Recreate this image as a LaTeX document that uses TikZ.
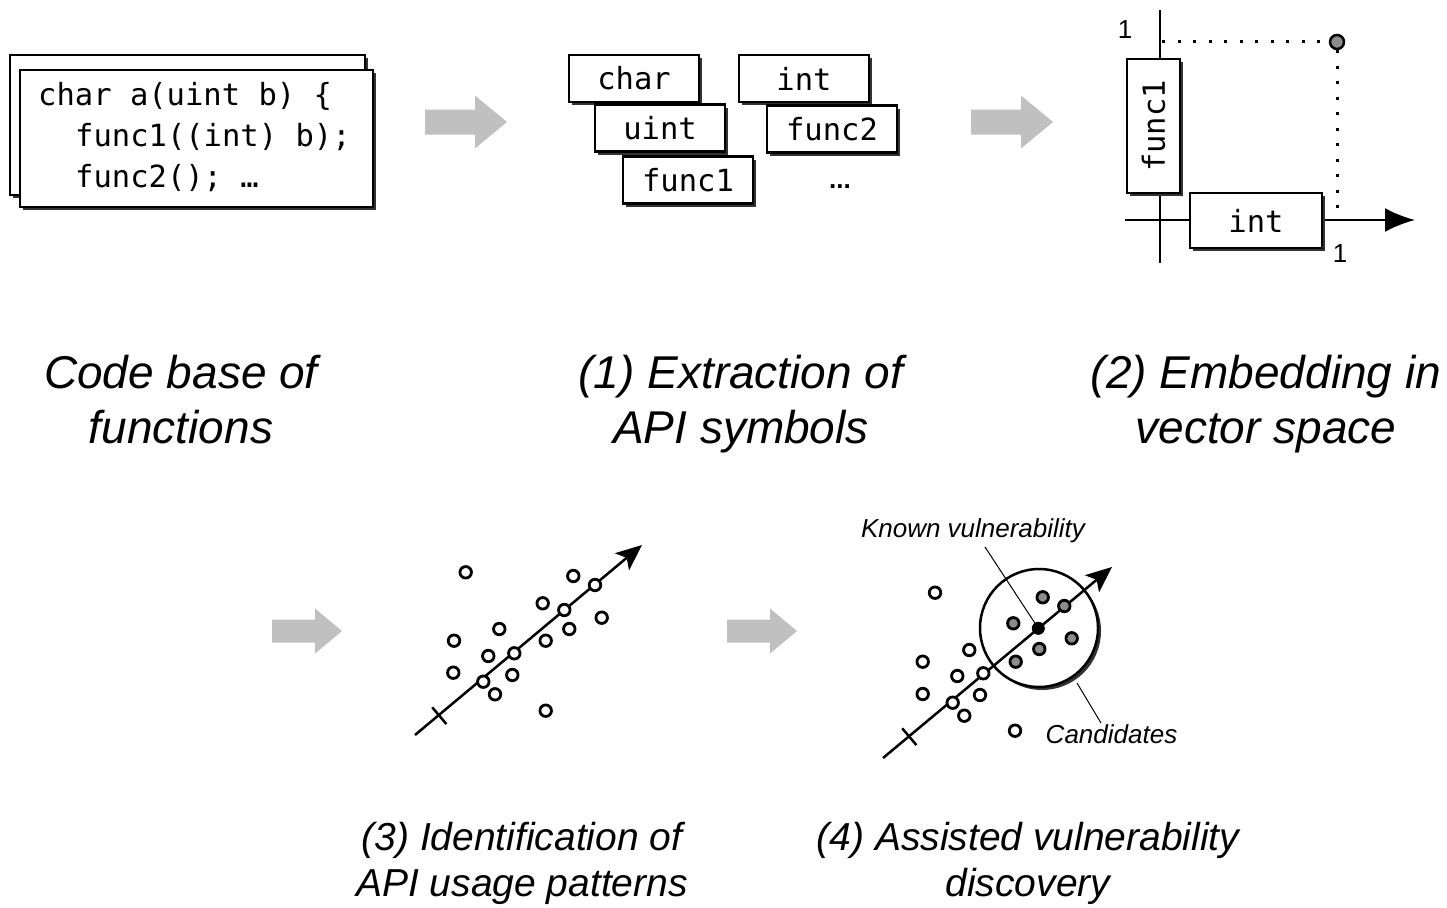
\documentclass[tikz,border=0pt]{standalone}
\usepackage{fontspec}
\usepackage{graphicx}
\setmainfont{Liberation Sans}
\newfontfamily\codefam{DejaVu Sans Mono}
\usetikzlibrary{shadows,arrows.meta}
\definecolor{garrow}{RGB}{192,192,192}
\definecolor{ptgray}{RGB}{140,140,140}
\begin{document}
\begin{tikzpicture}[x=1pt,y=-1pt,
  shad/.style={drop shadow={shadow xshift=3pt,shadow yshift=-3pt,opacity=1,fill=black!80}},
  box/.style={draw, line width=2.2pt, fill=white, inner sep=0pt, shad},
  tok/.style={box, minimum width=130pt, minimum height=47pt, font=\codefam\fontsize{30.5}{36}\selectfont},
  code/.style={anchor=base west, inner sep=0pt, font=\codefam\fontsize{30.5}{36}\selectfont},
  biglab/.style={align=center, anchor=north, inner sep=0pt, font=\itshape\fontsize{46}{55}\selectfont},
  smalllab/.style={align=center, anchor=north, inner sep=0pt, font=\itshape\fontsize{39}{46}\selectfont},
  note/.style={anchor=base, inner sep=0pt, font=\itshape\fontsize{26}{30}\selectfont},
  pt/.style={circle, draw, line width=2.8pt, fill=white, minimum size=11.5pt, inner sep=0pt},
  ptg/.style={pt, fill=ptgray},
  axis/.style={line width=2.5pt},
  dotline/.style={line width=3pt, dash pattern=on 3pt off 12.5pt},
  leader/.style={line width=1pt},
  grayarrow/.style={fill=garrow},
]
\useasboundingbox (0,0) rectangle (1447,907);

% ---------- gray process arrows ----------
\fill[grayarrow] (425,122) ++(0,-12.5) -- ++(50,0) -- ++(0,-14) -- ++(32,26.5) -- ++(-32,26.5) -- ++(0,-14) -- ++(-50,0) -- cycle;
\fill[grayarrow] (971,122) ++(0,-12.5) -- ++(50,0) -- ++(0,-14) -- ++(32,26.5) -- ++(-32,26.5) -- ++(0,-14) -- ++(-50,0) -- cycle;
\fill[grayarrow] (272,631) ++(0,-11.5) -- ++(43,0) -- ++(0,-11) -- ++(27,22.5) -- ++(-27,22.5) -- ++(0,-11) -- ++(-43,0) -- cycle;
\fill[grayarrow] (727,631) ++(0,-11.5) -- ++(43,0) -- ++(0,-11) -- ++(27,22.5) -- ++(-27,22.5) -- ++(0,-11) -- ++(-43,0) -- cycle;

% ---------- code base ----------
\node[box, minimum width=355pt, minimum height=140pt] (back) at (187.5,125) {};
\node[box, minimum width=353pt, minimum height=137pt] (front) at (196.5,138.5) {};
\node[code] (c1) at (38,105) {char a(uint b) \{};
\node[code] (c2) at (75,146) {func1((int) b);};
\node[code] (c3) at (75,187) {func2(); …};

% ---------- extracted symbols ----------
\node[tok] (tchar) at (634,78.5) {char};
\node[tok] (tint) at (804,78.5) {int};
\node[tok] (tuint) at (660,128) {uint};
\node[tok] (tfunc2) at (832,129) {func2};
\node[tok] (tfunc1) at (688,180) {func1};
\node[inner sep=0pt, font=\bfseries\fontsize{26}{26}\selectfont] (tdots) at (840,187) {...};

% ---------- embedding ----------
\coordinate (vtop) at (1160,10);
\coordinate (vbot) at (1160,263);
\coordinate (hl) at (1125,220);
\coordinate (hr) at (1415,220);
\draw[axis] (vtop) -- (vbot);
\draw[axis, -{Latex[length=30pt,width=24pt]}] (hl) -- (hr);
\node[box, minimum width=53pt, minimum height=134pt, font=\codefam\fontsize{30.5}{36}\selectfont] (f1v) at (1153.5,126) {\rotatebox{90}{func1}};
\node[tok, minimum width=132pt, minimum height=55pt] (intv) at (1256,220.5) {int};
\coordinate (y1) at (1162,42);
\coordinate (x1) at (1337,219);
\node[circle, draw, line width=2.5pt, fill=ptgray, minimum size=14pt, inner sep=0pt] (vec) at (1337,42) {};
\draw[dotline] (y1) -- (vec);
\draw[dotline] (vec) -- (x1);
\node[inner sep=0pt, font=\fontsize{26}{26}\selectfont] (oney) at (1125,30) {1};
\node[inner sep=0pt, font=\fontsize{26}{26}\selectfont] (onex) at (1340,254) {1};

% ---------- labels top ----------
\node[biglab] (lab0) at (181,354.5) {Code base of\\functions};
\node[biglab] (lab1) at (741,354.5) {(1) Extraction of\\API symbols};
\node[biglab] (lab2) at (1266,354.5) {(2) Embedding in\\vector space};

% ---------- usage patterns ----------
\coordinate (s3a) at (415,735);
\coordinate (s3b) at (642,545);
\coordinate (t3a) at (432.2,707.3);
\coordinate (t3b) at (446.4,724.1);
\draw[axis, -{Stealth[length=26pt,width=22pt,inset=6pt]}] (s3a) -- (s3b);
\draw[axis] (t3a) -- (t3b);
\foreach \x/\y [count=\i] in {465.7/572.3, 573.3/576, 595/585, 542.7/603.3, 564.3/610, 601.7/617.7, 499.3/629, 569.3/629, 454/640.7, 545.7/640.7, 514.3/653.3, 488.3/656, 453.3/672.7, 512.3/675, 483.3/681.7, 495/694.3, 545.7/710.7}
  \node[pt] (p\i) at (\x,\y) {};

% ---------- vulnerability discovery ----------
\node[circle, draw, line width=2.5pt, fill=white, minimum size=118pt, inner sep=0pt, shad] (cand) at (1039,628) {};
\coordinate (s4a) at (883,758);
\coordinate (s4b) at (1112,567);
\coordinate (t4a) at (902.2,728.3);
\coordinate (t4b) at (916.4,745.1);
\draw[axis, -{Stealth[length=26pt,width=22pt,inset=6pt]}] (s4a) -- (s4b);
\draw[axis] (t4a) -- (t4b);
\node[note] (kv) at (973,537) {Known vulnerability};
\node[note] (cd) at (1111.5,743) {Candidates};
\coordinate (kvend) at (985,547);
\coordinate (cd1) at (1077,683);
\coordinate (cd2) at (1101,723);
\coordinate (kdotc) at (1038.3,628.3);
\draw[leader] (kvend) -- (kdotc);
\draw[leader] (cd1) -- (cd2);
\foreach \x/\y [count=\i] in {935/592.7, 969.3/650, 922.7/661.7, 957.3/676, 983.3/673.3, 922.7/694, 980/695, 952.7/702.7, 964.3/715.7, 1015/730.7}
  \node[pt] (q\i) at (\x,\y) {};
\foreach \x/\y [count=\i] in {1042.7/597.3, 1064.3/606, 1013.3/623.3, 1071.7/638.3, 1039.3/649, 1015.7/661.7}
  \node[ptg] (g\i) at (\x,\y) {};
\node[circle, fill=black, draw, line width=1pt, minimum size=12pt, inner sep=0pt] (kdot) at (kdotc) {};

% ---------- labels bottom ----------
\node[smalllab] (lab3) at (522,822) {(3) Identification of\\API usage patterns};
\node[smalllab] (lab4) at (1028,822) {(4) Assisted vulnerability\\discovery};
\end{tikzpicture}
\end{document}
